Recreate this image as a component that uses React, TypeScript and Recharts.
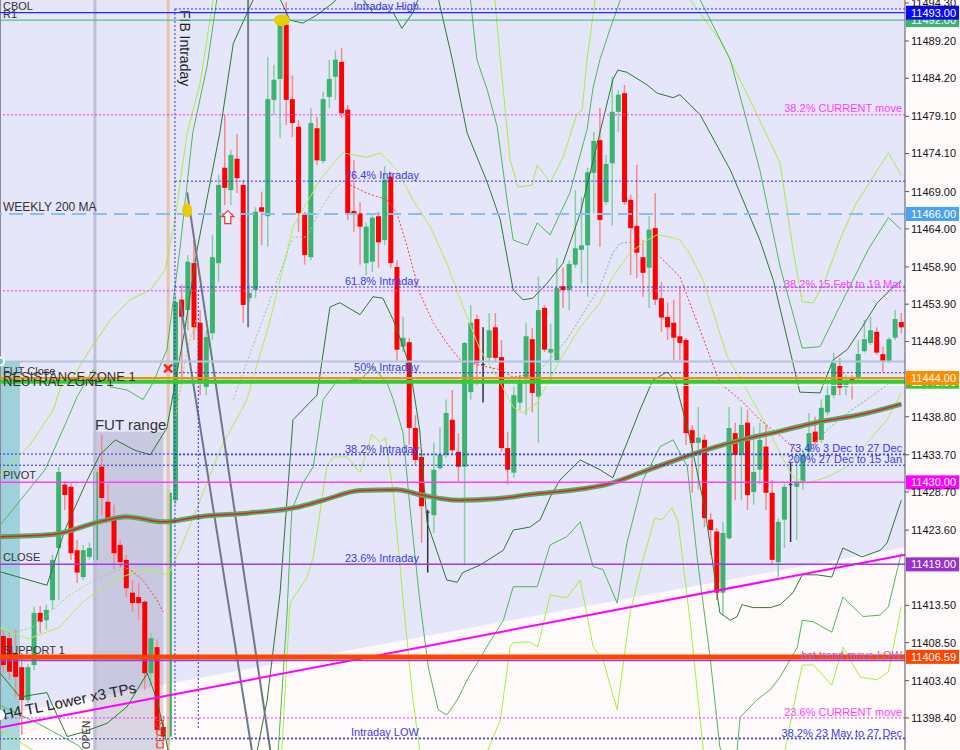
import React from 'react';
import {
  Area,
  Bar,
  ComposedChart,
  Line,
  ReferenceDot,
  ReferenceLine,
  XAxis,
  YAxis,
} from 'recharts';

const X_MIN = -0.54;
const X_MAX = 146.6;
const Y_MIN = 11394.1;
const Y_MAX = 11494.7;

// OHLC per bar, oldest first (147 bars)
const opens = [
  11409.4, 11409.1, 11407.1, 11405.2, 11400.8, 11405.5, 11412.5, 11411.5, 11414.2, 11421.2,
  11429.7, 11429.4, 11420.9, 11417.3, 11420.0, 11419.6, 11432.1, 11427.4, 11425.4, 11421.6,
  11419.6, 11415.2, 11414.6, 11414.0, 11404.4, 11407.9, 11397.2, 11395.9, 11427.6, 11454.5,
  11453.1, 11459.4, 11451.4, 11442.8, 11450.0, 11459.4, 11472.2, 11469.2, 11473.4, 11469.9,
  11454.7, 11455.8, 11466.9, 11465.7, 11481.3, 11484.1, 11491.4, 11481.4, 11477.7, 11465.9,
  11460.2, 11477.5, 11473.1, 11481.7, 11484.4, 11486.4, 11480.0, 11466.4, 11466.1, 11459.4,
  11459.6, 11465.7, 11462.5, 11471.0, 11458.9, 11448.2, 11448.8, 11437.3, 11433.4, 11426.0,
  11425.6, 11431.9, 11433.7, 11438.4, 11434.1, 11432.1, 11442.1, 11451.9, 11445.8, 11446.7,
  11450.8, 11446.8, 11434.6, 11431.3, 11440.7, 11444.0, 11449.2, 11441.5, 11453.4, 11447.4,
  11446.4, 11456.3, 11455.8, 11459.2, 11461.2, 11461.8, 11471.5, 11475.9, 11467.6, 11472.8,
  11479.7, 11482.2, 11467.9, 11464.4, 11460.2, 11458.8, 11464.1, 11454.7, 11452.2, 11451.4,
  11449.6, 11449.1, 11437.0, 11435.3, 11435.7, 11425.0, 11423.4, 11415.2, 11422.5, 11436.6,
  11433.7, 11438.0, 11428.7, 11431.7, 11434.8, 11428.6, 11419.3, 11425.0, 11429.7, 11429.4,
  11429.9, 11434.1, 11436.8, 11435.7, 11439.4, 11441.7, 11445.6, 11442.8, 11444.0, 11443.9,
  11447.6, 11448.7, 11450.2, 11447.2, 11446.3, 11449.4, 11451.5,
];
const highs = [
  11410.2, 11409.9, 11410.2, 11407.1, 11405.6, 11413.3, 11413.4, 11413.6, 11420.3, 11432.1,
  11430.1, 11429.9, 11422.3, 11421.6, 11421.9, 11431.7, 11436.4, 11429.7, 11427.0, 11422.3,
  11420.3, 11416.9, 11416.5, 11414.2, 11409.8, 11408.9, 11398.1, 11429.0, 11455.1, 11456.5,
  11460.5, 11462.5, 11453.1, 11450.4, 11463.2, 11471.2, 11479.3, 11474.6, 11476.7, 11470.6,
  11456.5, 11466.9, 11469.0, 11487.1, 11486.0, 11492.0, 11494.4, 11484.6, 11478.6, 11466.3,
  11480.2, 11479.0, 11482.4, 11486.7, 11487.9, 11488.3, 11480.6, 11473.2, 11467.6, 11464.9,
  11465.9, 11466.3, 11472.4, 11471.6, 11459.8, 11452.2, 11449.4, 11439.0, 11434.3, 11426.3,
  11435.3, 11437.4, 11441.1, 11442.4, 11436.6, 11448.8, 11453.8, 11452.5, 11450.8, 11452.7,
  11452.7, 11449.1, 11436.8, 11442.8, 11444.4, 11451.4, 11450.7, 11457.6, 11453.8, 11451.3,
  11460.1, 11458.8, 11459.8, 11469.2, 11468.3, 11472.2, 11477.0, 11480.2, 11473.9, 11484.4,
  11482.6, 11483.3, 11468.6, 11472.6, 11462.5, 11465.7, 11468.8, 11456.9, 11454.1, 11454.5,
  11456.2, 11449.4, 11437.7, 11440.1, 11436.4, 11425.9, 11423.9, 11424.7, 11440.1, 11438.0,
  11440.1, 11439.7, 11437.4, 11438.0, 11437.7, 11430.3, 11425.2, 11429.8, 11432.6, 11433.9,
  11434.3, 11439.3, 11438.8, 11441.1, 11443.5, 11447.4, 11446.7, 11444.4, 11444.4, 11449.1,
  11451.8, 11452.2, 11450.8, 11448.2, 11449.5, 11453.1, 11452.7,
];
const lows = [
  11404.4, 11403.5, 11401.2, 11396.1, 11400.4, 11404.8, 11409.8, 11410.2, 11412.9, 11414.2,
  11426.3, 11419.6, 11416.5, 11416.9, 11419.6, 11417.6, 11425.6, 11425.0, 11418.3, 11418.5,
  11414.6, 11412.6, 11411.5, 11402.2, 11402.8, 11394.2, 11394.2, 11394.8, 11427.0, 11443.1,
  11450.4, 11449.1, 11441.7, 11441.7, 11449.1, 11456.9, 11467.2, 11467.2, 11468.8, 11451.4,
  11454.2, 11454.7, 11461.8, 11461.6, 11479.3, 11476.2, 11477.9, 11476.3, 11463.6, 11459.2,
  11459.8, 11472.6, 11472.8, 11480.2, 11481.3, 11478.9, 11465.2, 11463.6, 11459.2, 11457.8,
  11458.2, 11458.8, 11461.8, 11458.8, 11446.2, 11447.5, 11435.0, 11432.3, 11421.9, 11417.9,
  11423.2, 11431.7, 11433.3, 11433.7, 11430.1, 11418.9, 11441.1, 11443.1, 11440.7, 11446.2,
  11446.2, 11434.1, 11429.7, 11430.6, 11439.7, 11439.0, 11439.4, 11435.3, 11447.5, 11443.5,
  11446.2, 11453.4, 11453.1, 11458.8, 11456.7, 11454.9, 11466.1, 11461.6, 11467.2, 11464.5,
  11477.0, 11467.2, 11457.8, 11457.4, 11454.9, 11453.4, 11453.8, 11450.2, 11449.1, 11446.4,
  11446.4, 11435.0, 11428.6, 11429.0, 11424.0, 11420.3, 11414.2, 11412.2, 11422.3, 11427.6,
  11427.6, 11426.3, 11427.0, 11429.7, 11426.3, 11418.9, 11417.3, 11421.2, 11422.0, 11422.3,
  11429.0, 11433.0, 11434.8, 11435.3, 11439.0, 11441.3, 11441.7, 11441.7, 11441.1, 11443.5,
  11447.4, 11448.4, 11447.1, 11444.8, 11446.0, 11449.1, 11450.0,
];
const closes = [
  11405.5, 11404.6, 11403.9, 11400.8, 11405.2, 11412.5, 11411.3, 11412.9, 11419.6, 11431.4,
  11428.3, 11420.5, 11417.9, 11420.9, 11421.2, 11431.4, 11427.9, 11425.2, 11420.5, 11419.3,
  11415.8, 11413.8, 11413.8, 11404.4, 11409.1, 11396.8, 11395.9, 11428.6, 11454.2, 11452.2,
  11459.6, 11450.8, 11443.3, 11449.5, 11460.2, 11469.9, 11469.5, 11473.9, 11470.8, 11453.8,
  11455.4, 11466.3, 11466.3, 11481.4, 11484.0, 11491.4, 11481.3, 11478.2, 11466.1, 11460.5,
  11478.2, 11473.2, 11481.4, 11484.1, 11486.7, 11479.5, 11466.1, 11465.9, 11464.3, 11464.3,
  11465.5, 11462.2, 11470.6, 11459.4, 11447.8, 11449.4, 11437.3, 11433.0, 11426.8, 11426.0,
  11431.7, 11433.7, 11439.3, 11434.3, 11432.1, 11448.7, 11451.4, 11446.0, 11445.8, 11450.4,
  11446.7, 11434.6, 11431.7, 11441.7, 11443.5, 11449.6, 11442.0, 11453.1, 11447.8, 11447.9,
  11456.1, 11455.8, 11459.3, 11461.4, 11461.8, 11471.6, 11475.8, 11465.2, 11472.7, 11479.7,
  11482.0, 11467.6, 11464.1, 11460.8, 11458.1, 11463.9, 11454.5, 11452.1, 11450.8, 11449.4,
  11448.7, 11436.6, 11435.3, 11436.0, 11425.2, 11423.6, 11415.2, 11423.2, 11437.3, 11433.7,
  11437.7, 11428.3, 11431.4, 11435.7, 11428.6, 11419.6, 11424.7, 11429.4, 11429.7, 11430.1,
  11433.7, 11436.6, 11435.4, 11440.0, 11441.7, 11446.0, 11442.7, 11443.5, 11443.7, 11447.2,
  11449.2, 11450.4, 11447.4, 11446.3, 11449.2, 11451.9, 11450.8,
];

const priceTicks = [
  11494.3, 11489.2, 11484.2, 11479.1, 11474.1, 11469.0, 11464.0, 11458.9, 11453.9, 11448.9,
  11438.8, 11433.7, 11428.7, 11423.6, 11413.5, 11408.5, 11403.4, 11398.4,
];

// horizontal levels
const levelNames = [
  'R1', 'CBOL', '38.2%  CURRENT move', 'WEEKLY 200 MA', '38.2%  15 Feb to 19 Mar', 'FUT Close',
  'NEUTRAL ZONE 1', 'RESISTANCE ZONE 1', '73.4%  3 Dec to 27 Dec', '200% 27 Dec to 15 Jan',
  'PIVOT', 'CLOSE', 'SUPPORT 1', 'bst trend move LOW', '23.6% CURRENT move', '38.2%  23 May to 27 Dec',
];
const levelPrices = [
  11492.0, 11493.0, 11479.3, 11466.0, 11455.7, 11446.2,
  11443.5, 11444.0, 11433.8, 11432.3,
  11430.0, 11419.0, 11406.59, 11406.1, 11398.4, 11395.6,
];

// intraday fibonacci
const fibNames = ['Intraday High', '76.4%  Intraday', '61.8%  Intraday', '50%  Intraday', '38.2%  Intraday', '23.6%  Intraday', 'Intraday LOW'];
const fibPrices = [11493.5, 11470.4, 11456.2, 11444.7, 11433.7, 11419.0, 11395.7];
const fibStartBar = 27.9;

// curves: [bar index, price]
const maLine = [
  [-0.5, 11422.7], [8, 11423.0], [16, 11424.8], [20, 11425.4], [26, 11424.7], [32, 11425.4],
  [40, 11425.9], [48, 11426.7], [52, 11427.6], [58, 11428.9], [64, 11429.0], [68, 11428.3],
  [74, 11427.6], [80, 11427.8], [86, 11428.4], [92, 11428.9], [98, 11429.7], [104, 11431.4],
  [108, 11432.6], [114, 11434.3], [120, 11435.7], [126, 11436.8], [132, 11438.0], [140, 11439.2],
  [146, 11440.5],
];
const darkUpper = [
  [-0.5, 11418.0], [7.1, 11416.2], [10.0, 11423.6], [13.3, 11429.7], [15.7, 11433.7], [18.2, 11435.7],
  [21.4, 11434.3], [23.9, 11433.7], [26.6, 11437.3], [29.5, 11450.4], [31.5, 11461.2], [35.2, 11476.9],
  [37.4, 11488.9], [40.6, 11494.7], [43.5, 11497.5], [46.6, 11492.0], [48.7, 11491.6], [51.0, 11492.7],
  [53.6, 11494.3], [56.5, 11497.0], [60.1, 11493.0], [63.4, 11493.0], [64.8, 11490.9], [66.6, 11493.0],
  [67.4, 11494.7], [70.0, 11497.5], [73.0, 11486.7], [75.4, 11476.9], [78.7, 11470.2], [80.8, 11465.2],
  [82.9, 11455.8], [84.5, 11454.5], [86.1, 11454.7], [88.4, 11456.7], [91.0, 11459.4], [93.8, 11466.1],
  [95.9, 11473.2], [99.1, 11484.0], [99.9, 11485.3], [101.4, 11485.0], [104.7, 11483.3], [106.3, 11482.2],
  [108.9, 11481.6], [110.0, 11482.0], [113.3, 11479.3], [118.2, 11471.9], [123.0, 11462.5], [125.2, 11457.1],
  [129.5, 11442.1], [132.8, 11442.0], [134.9, 11446.4], [137.2, 11447.8], [139.3, 11450.4], [142.1, 11454.1],
  [144.7, 11456.2], [146.0, 11457.1],
];
const darkLower = [
  [-0.5, 11404.4], [2.7, 11401.2], [4.8, 11401.5], [7.1, 11401.8], [8.1, 11399.9], [10.4, 11395.9],
  [13.0, 11396.5], [16.9, 11397.7], [20.1, 11399.9], [23.4, 11404.4], [25.0, 11400.8], [26.8, 11394.1],
  [28.7, 11387.5], [36.0, 11380.0], [41.3, 11394.1], [42.9, 11400.8], [45.0, 11415.2], [47.1, 11438.4],
  [51.0, 11441.7], [53.1, 11453.5], [54.7, 11454.1], [58.0, 11452.5], [60.1, 11454.9], [61.7, 11454.7],
  [63.4, 11451.8], [65.0, 11448.2], [66.1, 11445.5], [67.7, 11437.0], [68.9, 11424.6], [72.1, 11416.9],
  [73.8, 11416.6], [74.7, 11417.9], [77.5, 11418.9], [79.6, 11420.0], [81.3, 11420.9], [82.9, 11423.6],
  [85.6, 11424.0], [87.3, 11425.0], [88.9, 11428.0], [90.5, 11430.3], [93.8, 11433.0], [97.0, 11431.7],
  [99.1, 11430.6], [101.4, 11435.3], [103.5, 11439.7], [105.6, 11443.7], [107.9, 11444.8], [109.2, 11443.7],
  [111.7, 11435.7], [114.1, 11426.3], [116.5, 11412.5], [118.2, 11411.5], [119.3, 11412.0], [120.1, 11413.6],
  [121.9, 11413.2], [124.7, 11413.2], [126.3, 11413.6], [128.4, 11415.2], [129.9, 11417.6], [132.3, 11417.6],
  [134.7, 11417.3], [136.5, 11421.2], [139.6, 11420.0], [142.6, 11420.9], [143.7, 11421.9], [146.0, 11427.6],
];
const medUpper = [
  [-0.5, 11424.3], [6.8, 11431.7], [10.4, 11438.4], [12.0, 11441.5], [14.6, 11445.1], [17.4, 11442.8],
  [20.1, 11442.4], [22.7, 11441.1], [24.3, 11443.3], [26.6, 11447.8], [28.7, 11461.2], [30.8, 11476.9],
  [33.1, 11485.7], [34.7, 11494.7], [37.0, 11502.0], [75.0, 11502.0], [77.0, 11486.7], [78.7, 11482.6],
  [80.3, 11477.7], [81.9, 11467.9], [82.9, 11462.5], [85.2, 11461.8], [86.8, 11464.8], [88.9, 11463.2],
  [92.1, 11468.8], [94.9, 11477.3], [95.9, 11483.0], [97.0, 11486.7], [98.6, 11490.7], [100.3, 11494.7],
  [103.0, 11502.0], [111.0, 11502.0], [113.3, 11494.7], [118.2, 11486.7], [123.0, 11471.9], [126.3, 11458.9],
  [129.9, 11448.0], [132.8, 11448.2], [135.7, 11453.1], [140.6, 11461.2], [143.9, 11465.5], [146.0, 11463.9],
];
const medLower = [
  [-0.5, 11400.1], [6.0, 11397.5], [12.0, 11394.8], [15.7, 11392.1], [20.0, 11388.7], [32.0, 11380.0],
  [44.7, 11394.1], [46.1, 11412.0], [46.9, 11426.3], [48.7, 11429.9], [50.4, 11432.1], [52.0, 11441.1],
  [54.7, 11444.1], [58.0, 11443.7], [60.1, 11445.5], [62.4, 11443.3], [63.4, 11441.1], [65.0, 11436.6],
  [66.1, 11426.7], [67.7, 11414.2], [69.1, 11405.2], [70.7, 11399.5], [72.1, 11398.8], [73.8, 11400.8],
  [75.4, 11403.5], [78.8, 11408.2], [81.3, 11411.5], [82.9, 11416.0], [86.8, 11416.0], [88.9, 11421.6],
  [91.6, 11422.7], [93.8, 11424.7], [95.9, 11418.7], [97.5, 11418.3], [99.8, 11413.8], [101.4, 11421.9],
  [104.0, 11430.3], [106.8, 11434.8], [108.9, 11435.7], [111.2, 11432.1], [112.8, 11420.0], [114.9, 11406.6],
  [116.5, 11394.5], [117.9, 11391.4], [119.3, 11394.1], [119.8, 11398.5], [122.5, 11400.8], [124.7, 11402.2],
  [126.3, 11403.9], [129.1, 11407.9], [129.9, 11411.5], [131.7, 11411.3], [134.7, 11409.9], [136.5, 11414.6],
  [139.8, 11412.0], [142.6, 11412.2], [143.9, 11413.3], [146.0, 11420.5],
];
const lightUpper = [
  [-0.5, 11431.0], [4.3, 11435.0], [8.1, 11439.7], [9.7, 11443.7], [11.3, 11444.1], [14.1, 11447.8],
  [17.4, 11451.8], [20.6, 11454.5], [23.9, 11455.8], [26.3, 11458.5], [27.9, 11465.2], [29.9, 11476.9],
  [32.0, 11483.6], [34.1, 11494.7], [36.0, 11503.0], [79.0, 11503.0], [80.8, 11486.7], [82.4, 11473.2],
  [83.7, 11469.6], [86.0, 11469.9], [86.8, 11472.6], [88.9, 11470.2], [91.0, 11473.6], [93.3, 11479.5],
  [94.1, 11479.9], [94.9, 11486.7], [96.2, 11494.7], [98.0, 11503.0], [109.5, 11503.0], [111.7, 11494.7],
  [116.5, 11489.3], [121.4, 11481.3], [126.3, 11472.8], [128.4, 11461.2], [129.9, 11454.2], [131.7, 11454.1],
  [133.6, 11457.1], [136.0, 11462.5], [138.5, 11467.2], [140.9, 11470.3], [143.9, 11474.2], [146.0, 11471.2],
];
const lightLower = [
  [-0.5, 11396.8], [4.8, 11394.1], [8.1, 11391.4], [30.0, 11380.0], [45.3, 11394.1], [46.6, 11413.8],
  [49.4, 11417.3], [50.4, 11420.0], [52.6, 11432.1], [53.6, 11433.4], [55.9, 11433.4], [58.0, 11431.3],
  [59.9, 11436.4], [61.3, 11435.4], [62.1, 11436.0], [63.4, 11428.6], [65.0, 11414.2], [66.6, 11400.8],
  [67.7, 11394.1], [70.0, 11385.0], [77.0, 11385.0], [78.8, 11394.1], [80.8, 11398.1], [82.4, 11407.9],
  [82.9, 11408.5], [85.6, 11408.6], [86.9, 11407.9], [88.9, 11414.9], [91.6, 11414.5], [93.8, 11416.9],
  [95.9, 11407.9], [97.5, 11406.2], [99.8, 11399.5], [101.9, 11412.5], [104.0, 11419.6], [105.9, 11425.2],
  [107.1, 11425.0], [108.7, 11426.6], [109.7, 11424.7], [111.7, 11411.1], [113.8, 11394.1], [116.0, 11384.0],
  [125.0, 11384.0], [127.1, 11394.1], [128.7, 11400.8], [129.9, 11405.5], [131.7, 11405.5], [134.7, 11402.8],
  [136.5, 11407.9], [139.3, 11403.9], [142.1, 11403.5], [143.9, 11404.6], [146.0, 11413.3],
];
const lightMid = [
  [-0.5, 11410.5], [4.0, 11409.0], [9.0, 11410.5], [13.0, 11414.0], [18.0, 11417.0], [23.0, 11418.3],
  [26.8, 11417.6], [28.7, 11420.9], [32.0, 11427.6], [35.2, 11434.3], [39.6, 11441.1], [43.4, 11451.8],
  [47.1, 11464.3], [51.5, 11470.6], [55.1, 11474.2], [59.1, 11473.6], [61.3, 11474.2], [64.0, 11471.9],
  [66.6, 11467.9], [69.4, 11464.3], [72.1, 11459.4], [74.3, 11454.5], [77.5, 11447.8], [80.3, 11444.1],
  [82.9, 11440.1], [84.5, 11439.3], [86.8, 11440.7], [90.5, 11446.4], [93.8, 11450.8], [97.0, 11454.1],
  [99.1, 11457.6], [101.9, 11460.8], [104.7, 11462.5], [106.3, 11463.2], [108.4, 11462.9], [110.0, 11462.5],
  [111.7, 11460.5], [113.8, 11457.1], [117.7, 11446.8], [120.9, 11442.4], [124.2, 11437.4], [126.3, 11433.9],
  [128.4, 11430.7], [130.7, 11429.9], [133.9, 11430.7], [137.2, 11432.1], [140.4, 11435.3], [143.7, 11438.4],
  [146.0, 11442.0],
];
const redDots1 = [[19.0, 11418.9], [20.6, 11418.3], [22.7, 11416.9], [25.0, 11414.2], [26.0, 11412.6]];
const redDots2 = [
  [56.4, 11469.9], [59.1, 11468.8], [62.4, 11467.9], [64.0, 11466.1], [65.6, 11461.8], [67.7, 11455.4],
  [69.9, 11451.4], [72.1, 11448.7], [74.3, 11446.4], [77.5, 11445.7], [80.8, 11445.1], [82.9, 11444.1],
  [85.2, 11444.4], [86.8, 11443.7],
];
const redDots3 = [
  [106.8, 11460.2], [110.0, 11457.6], [113.3, 11450.4], [116.5, 11443.3], [119.8, 11441.1], [123.0, 11438.4],
  [125.8, 11436.6], [129.5, 11433.9],
];
const greenDots1 = [
  [1.6, 11409.8], [4.8, 11410.6], [8.1, 11412.9], [10.4, 11414.6], [13.0, 11416.0], [15.7, 11417.3],
  [19.0, 11418.3], [22.2, 11418.7], [25.0, 11418.7], [26.6, 11419.2],
];
const greenDots2 = [[37.4, 11441.1], [47.1, 11462.9], [49.4, 11462.9], [51.5, 11466.5], [53.6, 11469.2], [55.1, 11470.3]];
const greenDots3 = [[87.3, 11445.1], [91.6, 11449.1], [94.9, 11453.5], [97.0, 11456.2], [99.1, 11460.8], [100.3, 11462.1], [102.4, 11462.2]];
const greenDots4 = [[130.2, 11433.9], [133.9, 11437.0], [137.2, 11439.3], [140.4, 11441.1], [144.7, 11443.7]];
const yellowDots = [[27.9, 11438.4], [29.9, 11447.8], [31.5, 11452.2]];

// drawn objects
const trendLine = [[X_MIN, 11397.1], [X_MAX, 11420.3]];
const trendZoneEdge = [[X_MIN, 11398.8], [X_MAX, 11421.3]];
const tealBox = [[X_MIN, 11446.2], [2.7, 11446.2]];
const futRangeBox = [[14.6, 11436.8], [26.0, 11436.8]];
const grayRayA = [[29.9, 11468.9], [43.4, 11394.1]];
const grayRayB = [[28.7, 11454.5], [40.4, 11394.1]];

const candles = opens.map((o, i) => ({ i, o, h: highs[i], l: lows[i], c: closes[i] }));
const pts = (arr: number[][]) => arr.map(([i, v]) => ({ i, v }));
const seg = (arr: number[][]) => arr.map(([x, y]) => ({ x, y }));

const FONT = "'Liberation Sans', Arial, sans-serif";
const DARK = '#2b7a30';
const MED = '#4fb955';
const LIGHT = '#a6f03a';

type LevelStyle = {
  stroke: string; width: number; dash?: string; side: 'left' | 'right';
  text: string; size: number; dy: number; box?: string;
};
const levelStyle: Record<string, LevelStyle> = {
  'R1': { stroke: '#3cb371', width: 1, side: 'left', text: '#333', size: 11, dy: -2, box: '#3cb371' },
  'CBOL': { stroke: '#2626ff', width: 1.2, side: 'left', text: '#333', size: 11, dy: -3, box: '#0a0af0' },
  '38.2%  CURRENT move': { stroke: '#ff2cff', width: 1, dash: '2 2', side: 'right', text: '#ff40ff', size: 11, dy: -3 },
  'WEEKLY 200 MA': { stroke: '#8cbcf2', width: 2, dash: '14 7', side: 'left', text: '#333', size: 12, dy: -3, box: '#4aa3f0' },
  '38.2%  15 Feb to 19 Mar': { stroke: '#ff2cff', width: 1, dash: '2 2', side: 'right', text: '#ff40ff', size: 11, dy: -3 },
  'FUT Close': { stroke: '#b0c4de', width: 2, side: 'left', text: '#333', size: 11, dy: 13 },
  'NEUTRAL ZONE 1': { stroke: '#32cd32', width: 4, side: 'left', text: '#333', size: 13, dy: 4, box: '#32cd32' },
  'RESISTANCE ZONE 1': { stroke: '#ff8c00', width: 2, side: 'left', text: '#333', size: 13, dy: 3, box: '#ff8c00' },
  '73.4%  3 Dec to 27 Dec': { stroke: '#2b2bd0', width: 1, dash: '2 2', side: 'right', text: '#3a3ae6', size: 11, dy: -2 },
  '200% 27 Dec to 15 Jan': { stroke: '#2b2bd0', width: 1, dash: '2 2', side: 'right', text: '#3a3ae6', size: 11, dy: -2 },
  'PIVOT': { stroke: '#ff3cff', width: 1.5, side: 'left', text: '#333', size: 11, dy: -3, box: '#ff00ff' },
  'CLOSE': { stroke: '#9b3fe0', width: 1.5, side: 'left', text: '#333', size: 11, dy: -3, box: '#9932cc' },
  'SUPPORT 1': { stroke: '#ff4500', width: 5, side: 'left', text: '#333', size: 11, dy: -3, box: '#ff4500' },
  'bst trend move LOW': { stroke: '#9b3fe0', width: 1.5, side: 'right', text: '#a060e0', size: 11, dy: -2 },
  '23.6% CURRENT move': { stroke: '#ff2cff', width: 1, dash: '2 2', side: 'right', text: '#ff40ff', size: 11, dy: -2 },
  '38.2%  23 May to 27 Dec': { stroke: '#2b2bd0', width: 1, dash: '2 2', side: 'right', text: '#3a3ae6', size: 11, dy: -2 },
};

const curves = [
  { data: lightUpper, color: LIGHT, width: 1 },
  { data: lightLower, color: LIGHT, width: 1 },
  { data: lightMid, color: '#b4ee4c', width: 1 },
  { data: medUpper, color: MED, width: 1 },
  { data: medLower, color: MED, width: 1 },
  { data: darkUpper, color: DARK, width: 1 },
  { data: darkLower, color: DARK, width: 1 },
  { data: greenDots1, color: '#9fd86a', width: 1, dash: '2 2' },
  { data: greenDots2, color: '#8fd08a', width: 1, dash: '2 2' },
  { data: greenDots3, color: '#6fc08a', width: 1, dash: '2 2' },
  { data: greenDots4, color: '#6fc08a', width: 1, dash: '2 2' },
  { data: yellowDots, color: '#d8c820', width: 1, dash: '2 2' },
  { data: redDots1, color: '#ff3a3a', width: 1, dash: '2 2' },
  { data: redDots2, color: '#ff3a3a', width: 1, dash: '2 2' },
  { data: redDots3, color: '#ff3a3a', width: 1, dash: '2 2' },
];

const Candle = (p: any) => {
  const { x, y, width, height, payload } = p;
  if (!payload || x == null || y == null) return <g />;
  const { o, h, l, c } = payload;
  const top = height < 0 ? y + height : y;
  const span = Math.abs(height);
  const k = h === l ? 0 : span / (h - l);
  const py = (v: number) => top + (h - v) * k;
  const cx = x + width / 2;
  const flat = o === c;
  const up = c > o;
  const bodyTop = py(Math.max(o, c));
  const bodyBot = py(Math.min(o, c));
  const wick = flat ? '#333' : up ? '#86cfa0' : '#f28a8a';
  return (
    <g>
      <line x1={cx} x2={cx} y1={top} y2={top + span} stroke={wick} strokeWidth={1.5} />
      {flat ? (
        <line x1={cx - 2} x2={cx + 2} y1={bodyTop} y2={bodyTop} stroke="#333" strokeWidth={1} />
      ) : (
        <rect x={cx - 2.5} y={bodyTop} width={5} height={Math.max(1, bodyBot - bodyTop)} fill={up ? '#3cb371' : '#ff0000'} />
      )}
    </g>
  );
};

const LevelTag = (props: any) => {
  const { viewBox, levelName, price } = props;
  if (!viewBox) return null;
  const st = levelStyle[levelName];
  const { x, y, width } = viewBox;
  const right = x + width;
  return (
    <g fontFamily={FONT}>
      <text
        x={st.side === 'left' ? x + 3 : right - 3}
        y={y + st.dy}
        textAnchor={st.side === 'left' ? 'start' : 'end'}
        fontSize={st.size}
        fill={st.text}
      >
        {levelName}
      </text>
      {st.box && (
        <g>
          <rect x={right + 1} y={y - 7} width={53} height={14} fill={st.box} />
          <text x={right + 6} y={y + 4} fontSize={11} fill="#fff">{price.toFixed(2)}</text>
        </g>
      )}
    </g>
  );
};

const FibTag = (props: any) => {
  const { viewBox, text, dy } = props;
  if (!viewBox) return null;
  return (
    <text x={viewBox.x + 244} y={viewBox.y + (dy ?? -2)} textAnchor="end" fontSize={11} fill="#3a3ae6" fontFamily={FONT}>
      {text}
    </text>
  );
};

const FibTitle = (props: any) => {
  const { viewBox } = props;
  if (!viewBox) return null;
  return (
    <text transform={`translate(${viewBox.x + 5},${viewBox.y + 1}) rotate(90)`} fontSize={14} fill="#222" fontFamily={FONT}>
      FIB Intraday
    </text>
  );
};

const OpenTag = (props: any) => {
  const { viewBox } = props;
  if (!viewBox) return null;
  return (
    <g fontFamily={FONT}>
      <text transform={`translate(${viewBox.x - 5},${viewBox.y + viewBox.height - 1}) rotate(-90)`} fontSize={10} fill="#333">OPEN</text>
      <text x={viewBox.x} y={viewBox.y + 430} fontSize={15} fill="#333">FUT range</text>
    </g>
  );
};

const CloseTag = (props: any) => {
  const { viewBox } = props;
  if (!viewBox) return null;
  return (
    <text transform={`translate(${viewBox.x - 4},${viewBox.y + viewBox.height - 1}) rotate(-90)`} fontSize={10} fill="#d0502a" fontFamily={FONT}>
      CLOSE
    </text>
  );
};

const TrendTag = (props: any) => {
  const { viewBox } = props;
  if (!viewBox) return null;
  return (
    <text transform={`translate(${viewBox.x + 4},${viewBox.y + viewBox.height - 8}) rotate(-11.5)`} fontSize={15} fill="#222" fontFamily={FONT}>
      H4 TL Lower x3 TPs
    </text>
  );
};

const GoldMark = (p: any) => <ellipse cx={p.cx} cy={p.cy} rx={p.rx ?? 7} ry={p.ry ?? 6} fill="#e6cf00" />;
const CrossMark = (p: any) => (
  <g stroke="#ff2020" strokeWidth={2.5}>
    <line x1={p.cx - 4} y1={p.cy - 4} x2={p.cx + 4} y2={p.cy + 4} />
    <line x1={p.cx - 4} y1={p.cy + 4} x2={p.cx + 4} y2={p.cy - 4} />
  </g>
);
const ArrowMark = (p: any) => (
  <path
    d={`M${p.cx},${p.cy - 7} L${p.cx + 6},${p.cy - 1} L${p.cx + 3},${p.cy - 1} L${p.cx + 3},${p.cy + 6} L${p.cx - 3},${p.cy + 6} L${p.cx - 3},${p.cy - 1} L${p.cx - 6},${p.cy - 1} Z`}
    fill="#fff"
    stroke="#ff3030"
    strokeWidth={1.2}
  />
);

export default function App() {
  return (
    <div
      style={{
        width: 960,
        height: 750,
        fontFamily: FONT,
        background: 'linear-gradient(to right, #e6e6fa 0px, #e6e6fa 905px, #fffafa 905px)',
      }}
    >
      <style>{'body{margin:0}'}</style>
      <ComposedChart width={960} height={750} data={candles} margin={{ top: 0, right: 0, bottom: 0, left: 0 }}>
        <XAxis type="number" dataKey="i" domain={[X_MIN, X_MAX]} allowDataOverflow hide />
        <YAxis
          orientation="right"
          type="number"
          domain={[Y_MIN, Y_MAX]}
          allowDataOverflow
          ticks={priceTicks}
          interval={0}
          width={55}
          tickSize={4}
          tickMargin={2}
          tick={{ fontSize: 11, fill: '#111' }}
          tickFormatter={(v: number) => v.toFixed(2)}
          axisLine={{ stroke: '#555' }}
          tickLine={{ stroke: '#555' }}
        />

        {/* background zones */}
        <Area data={pts(trendZoneEdge)} dataKey="v" baseValue={Y_MIN} type="linear" stroke="none" fill="#fffafa" fillOpacity={1} isAnimationActive={false} />
        <Area data={pts(tealBox)} dataKey="v" baseValue={Y_MIN} type="linear" stroke="none" fill="#6fc3c8" fillOpacity={0.6} isAnimationActive={false} />
        <Area data={pts(futRangeBox)} dataKey="v" baseValue={Y_MIN} type="linear" stroke="none" fill="#9b98b8" fillOpacity={0.38} isAnimationActive={false} />

        {/* vertical markers */}
        <ReferenceLine x={X_MIN} stroke="#8a8a99" strokeWidth={2} />
        <ReferenceLine x={14.9} stroke="#c2bed8" strokeWidth={3} label={<OpenTag />} />
        <ReferenceLine x={26.8} stroke="#e8c4ac" strokeWidth={3} label={<CloseTag />} />
        <ReferenceLine segment={seg([[39.8, Y_MAX], [39.8, 11450.8]])} stroke="#74808c" strokeWidth={2} />

        {/* envelope / average curves */}
        {curves.map((cv, k) => (
          <Line
            key={`cv${k}`}
            data={pts(cv.data)}
            dataKey="v"
            type="linear"
            stroke={cv.color}
            strokeWidth={cv.width}
            strokeDasharray={cv.dash}
            dot={false}
            activeDot={false}
            isAnimationActive={false}
          />
        ))}

        <ReferenceLine segment={seg(grayRayA)} stroke="#6c7a88" strokeWidth={2} />
        <ReferenceLine segment={seg(grayRayB)} stroke="#6c7a88" strokeWidth={2} />

        {/* candles */}
        <Bar dataKey={(d: any) => [d.l, d.h]} barSize={5} shape={<Candle />} isAnimationActive={false} />

        {/* slow moving average */}
        <Line data={pts(maLine)} dataKey="v" type="monotone" stroke="#4fae6a" strokeWidth={5} dot={false} activeDot={false} isAnimationActive={false} />
        <Line data={pts(maLine)} dataKey="v" type="monotone" stroke="#e82020" strokeWidth={1.5} dot={false} activeDot={false} isAnimationActive={false} />

        {/* fibonacci intraday */}
        <ReferenceLine segment={seg([[fibStartBar, fibPrices[0]], [fibStartBar, fibPrices[6]]])} stroke="#3030d8" strokeDasharray="2 2" label={<FibTitle />} />
        <ReferenceLine segment={seg([[31.7, 11455.8], [31.7, 11396.8]])} stroke="#3030d8" strokeDasharray="2 2" />
        {fibPrices.map((p, k) => (
          <ReferenceLine
            key={`fib${k}`}
            segment={seg([[fibStartBar, p], [X_MAX, p]])}
            stroke="#3030d8"
            strokeDasharray="2 2"
            label={<FibTag text={fibNames[k]} dy={k === 0 ? 1 : -2} />}
          />
        ))}

        {/* trend line */}
        <ReferenceLine segment={seg(trendLine)} stroke="#ff00ff" strokeWidth={2} label={<TrendTag />} />
        <ReferenceLine segment={seg([[87.3, 11443.0], [X_MAX, 11443.0]])} stroke="#ffffff" strokeWidth={1} />

        {/* key levels */}
        {levelNames.map((n, k) => {
          const st = levelStyle[n];
          return (
            <ReferenceLine
              key={`lv${k}`}
              y={levelPrices[k]}
              stroke={st.stroke}
              strokeWidth={st.width}
              strokeDasharray={st.dash}
              label={<LevelTag levelName={n} price={levelPrices[k]} />}
            />
          );
        })}

        {/* markers */}
        <ReferenceDot x={45.3} y={11492.0} r={7} shape={<GoldMark rx={8} ry={6} />} />
        <ReferenceDot x={29.9} y={11466.5} r={7} shape={<GoldMark rx={5} ry={7} />} />
        <ReferenceDot x={26.8} y={11445.3} r={4} shape={<CrossMark />} />
        <ReferenceDot x={36.5} y={11465.5} r={4} shape={<ArrowMark />} />
      </ComposedChart>
    </div>
  );
}
